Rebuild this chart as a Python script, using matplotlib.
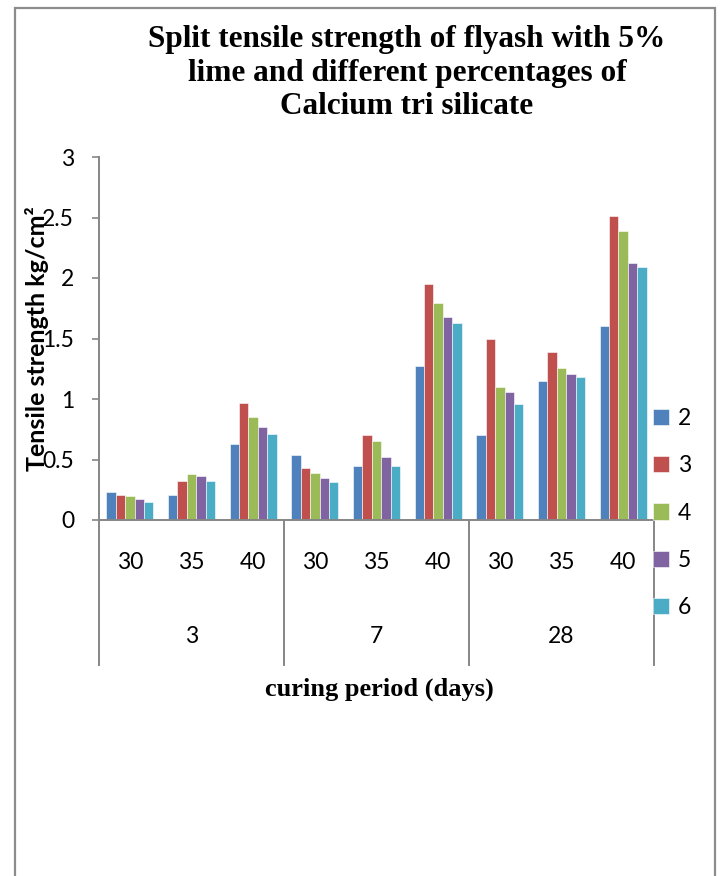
import matplotlib

matplotlib.use("Agg")
import matplotlib.pyplot as plt
from matplotlib.patches import Rectangle
from matplotlib.ticker import FuncFormatter, MultipleLocator


W, H = 721, 876

curing_days = ["3", "7", "28"]
fly_ash_pct = ["30", "35", "40"]
series_names = ["2", "3", "4", "5", "6"]

# tensile strength, kg/cm2, order: 3d(30,35,40), 7d(30,35,40), 28d(30,35,40)
s2 = [0.23, 0.21, 0.63, 0.54, 0.45, 1.27, 0.70, 1.15, 1.60]
s3 = [0.21, 0.32, 0.97, 0.43, 0.70, 1.95, 1.50, 1.39, 2.51]
s4 = [0.20, 0.38, 0.85, 0.39, 0.65, 1.79, 1.10, 1.26, 2.39]
s5 = [0.17, 0.36, 0.77, 0.35, 0.52, 1.68, 1.06, 1.21, 2.12]
s6 = [0.15, 0.32, 0.71, 0.31, 0.45, 1.63, 0.96, 1.18, 2.09]
series_values = [s2, s3, s4, s5, s6]

colors = ["#4f81bd", "#c0504d", "#9bbb59", "#8064a2", "#4bacc6"]
axis_grey = "#868686"
tick_font = "Lato"
serif_font = "Liberation Serif"


def px(x, y):
    return x / W, 1 - y / H


fig = plt.figure(figsize=(W / 100, H / 100), dpi=100)

# chart frame (bottom runs off the image)
fig.patches.append(
    Rectangle((15 / W, -0.02), 700 / W, 1 - 8 / H + 0.02, transform=fig.transFigure,
              fill=False, edgecolor="#8c8c8c", linewidth=1.6)
)

left, top = px(99, 157)
right, bottom = px(654, 520)
ax = fig.add_axes([left, bottom, right - left, top - bottom])

n_cat = len(curing_days) * len(fly_ash_pct)
cat_x = list(range(n_cat))
bar_w = 0.152
n_series = len(series_values)
for i, (name, vals) in enumerate(zip(series_names, series_values)):
    offset = (i - (n_series - 1) / 2) * bar_w
    ax.bar([x + offset for x in cat_x], vals, width=bar_w, color=colors[i],
           edgecolor="white", linewidth=0.4, label=name, zorder=2)

ax.set_xlim(-0.5, n_cat - 0.5)
ax.set_ylim(0, 3)
ax.yaxis.set_major_locator(MultipleLocator(0.5))
ax.yaxis.set_major_formatter(FuncFormatter(lambda v, _: f"{v:g}"))

for side in ["top", "right"]:
    ax.spines[side].set_visible(False)
for side in ["left", "bottom"]:
    ax.spines[side].set_color(axis_grey)
    ax.spines[side].set_linewidth(1.4)

ax.tick_params(axis="y", direction="out", length=5, width=1.2, color=axis_grey,
               pad=13, labelsize=16.5)
ax.set_xticks(cat_x, fly_ash_pct * len(curing_days))
ax.tick_params(axis="x", length=0, pad=23, labelsize=16.5)
for lab in ax.get_xticklabels() + ax.get_yticklabels():
    lab.set_fontfamily(tick_font)

# multi-level category axis: group separators and outer labels
xtr = ax.get_xaxis_transform()
sep_depth = (665 - 520) / (520 - 157)
group_size = len(fly_ash_pct)
for g in range(len(curing_days) + 1):
    b = g * group_size - 0.5
    ax.plot([b, b], [0, -sep_depth], transform=xtr, color=axis_grey,
            linewidth=1.4, clip_on=False)
for g, day in enumerate(curing_days):
    mid = g * group_size + (group_size - 1) / 2
    ax.text(mid, -(637 - 520) / (520 - 157), day, transform=xtr, ha="center",
            va="center", fontsize=16.5, fontfamily=tick_font)

fig.text(*px(407, 73),
         "Split tensile strength of flyash with 5%\nlime and different percentages of\nCalcium tri silicate",
         ha="center", va="center", fontsize=22.5, fontweight="bold",
         fontfamily=serif_font, linespacing=1.2)
fig.text(*px(379, 689), "curing period (days)", ha="center", va="center",
         fontsize=19, fontweight="bold", fontfamily=serif_font)
fig.text(*px(37, 339), "Tensile strength kg/cm²", rotation=90, ha="center",
         va="center", fontsize=18, fontweight="bold", fontfamily=tick_font)

fig.legend(loc="center left", bbox_to_anchor=px(653, 513), frameon=False,
           prop={"family": tick_font, "size": 16.5}, handlelength=0.7,
           handleheight=0.7, handletextpad=0.4, labelspacing=1.15,
           borderpad=0, borderaxespad=0)

fig.savefig("out.png", dpi=100)
